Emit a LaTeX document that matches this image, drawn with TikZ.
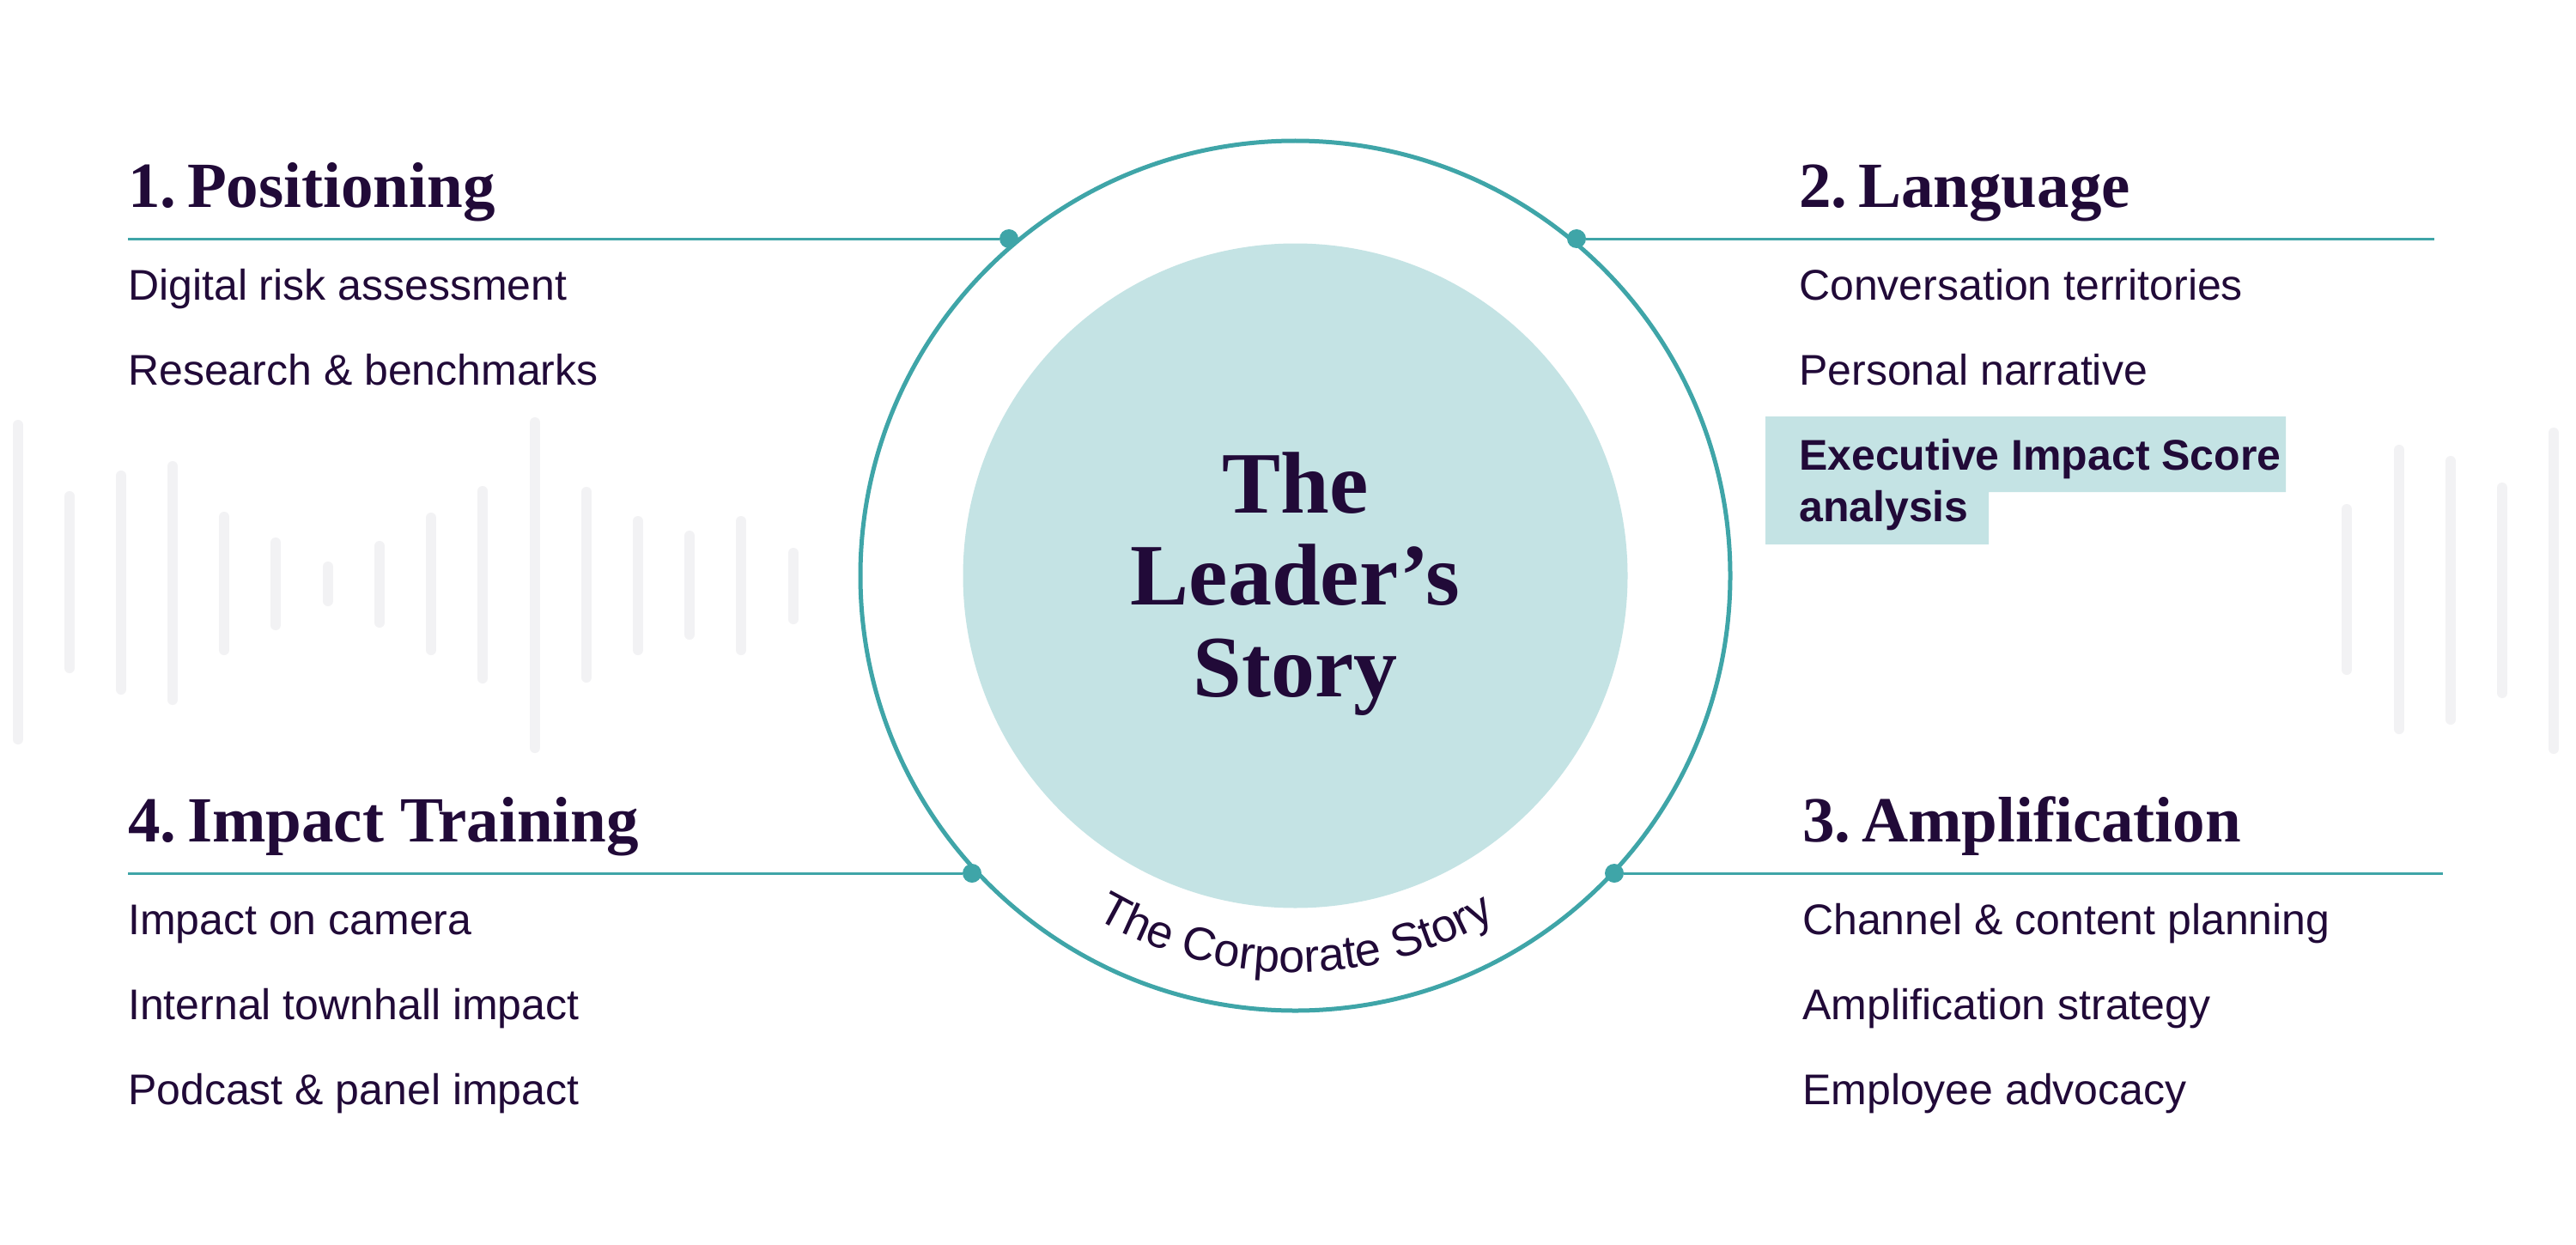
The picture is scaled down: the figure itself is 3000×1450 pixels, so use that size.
\documentclass[tikz,border=0pt]{standalone}
\usepackage{fontspec}
\setmainfont{Liberation Serif}
\setsansfont{Liberation Sans}
\usetikzlibrary{decorations.text}
\definecolor{ink}{HTML}{210A38}
\definecolor{tealc}{HTML}{3FA5A8}
\definecolor{lightteal}{HTML}{C4E3E4}
\definecolor{bargray}{HTML}{F2F2F4}
\newcommand{\nsp}{\hspace{0.17em}}
\tikzset{
  titletext/.style={anchor=base west, inner sep=0pt, text=ink, font=\fontsize{75}{75}\selectfont\bfseries},
  itemtext/.style={anchor=base west, inner sep=0pt, text=ink, font=\sffamily\fontsize{50}{60}\selectfont},
  boldtext/.style={anchor=base west, inner sep=0pt, text=ink, font=\sffamily\bfseries\fontsize{50}{60}\selectfont},
  centertext/.style={anchor=base, inner sep=0pt, text=ink, font=\fontsize{102}{102}\selectfont\bfseries},
  barline/.style={draw=bargray, line width=12pt, line cap=round},
  linkline/.style={draw=tealc, line width=3pt},
  dotnode/.style={circle, fill=tealc, inner sep=0pt, minimum size=22pt},
}
\begin{document}
\begin{tikzpicture}[x=1pt,y=-1pt]
\fill[white] (0,0) rectangle (3000,1450);
\useasboundingbox (0,0) rectangle (3000,1450);
% background bars left
\foreach \x/\a/\b in {21/495/861, 81/578/778, 141/554/803, 201/543/815, 261/602/757, 321/632/728, 382/660/700, 442/636/725, 502/603/757, 562/572/790, 623/492/871, 683/573/789, 743/607/757, 803/624/739, 863/607/757, 924/644/721}
  {\draw[barline] (\x,\a) -- (\x,\b);}
% background bars right
\foreach \x/\a/\b in {2733/593/780, 2794/524/849, 2854/537/838, 2914/568/807, 2974/504/872}
  {\draw[barline] (\x,\a) -- (\x,\b);}
% circles
\coordinate (C) at (1508.5,670.5);
\fill[lightteal] (C) circle[radius=387];
\draw[tealc, line width=5pt] (C) circle[radius=506.5];
% centre text
\node[centertext] (t1) at (1508.5,597) {The};
\node[centertext] (t2) at (1508.5,704) {Leader’s};
\node[centertext] (t3) at (1508.5,811) {Story};
% curved text
\path[decorate, decoration={text along path, text align=center,
  text={|\sffamily\fontsize{54}{54}\selectfont\color{ink}|The Corporate Story}}]
  (C) ++(155:462) arc[start angle=155, end angle=25, radius=462];
% connector lines
\coordinate (l1) at (149,278);
\coordinate (r2) at (2835,278);
\coordinate (l4) at (149,1017);
\coordinate (r3) at (2845,1017);
\node[dotnode] (d1) at (1175,278) {};
\node[dotnode] (d2) at (1836,278) {};
\node[dotnode] (d4) at (1132,1017) {};
\node[dotnode] (d3) at (1880,1017) {};
\draw[linkline] (l1) -- (d1);
\draw[linkline] (d2) -- (r2);
\draw[linkline] (l4) -- (d4);
\draw[linkline] (d3) -- (r3);
% titles
\node[titletext] (h1) at (149,241) {1.\nsp Positioning};
\node[titletext] (h2) at (2095,241) {2.\nsp Language};
\node[titletext] (h4) at (149,980) {4.\nsp Impact Training};
\node[titletext] (h3) at (2099,980) {3.\nsp Amplification};
% items
\node[itemtext] (a1) at (149,349) {Digital risk assessment};
\node[itemtext] (a2) at (149,448) {Research \& benchmarks};
\node[itemtext] (b1) at (2095,349) {Conversation territories};
\node[itemtext] (b2) at (2095,448) {Personal narrative};
\fill[lightteal] (2056,485) -- (2662,485) -- (2662,573) -- (2316,573) -- (2316,634) -- (2056,634) -- cycle;
\node[boldtext] (b3) at (2095,547) {Executive Impact Score};
\node[boldtext] (b4) at (2095,607) {analysis};
\node[itemtext] (c1) at (2099,1088) {Channel \& content planning};
\node[itemtext] (c2) at (2099,1187) {Amplification strategy};
\node[itemtext] (c3) at (2099,1286) {Employee advocacy};
\node[itemtext] (e1) at (149,1088) {Impact on camera};
\node[itemtext] (e2) at (149,1187) {Internal townhall impact};
\node[itemtext] (e3) at (149,1286) {Podcast \& panel impact};
\end{tikzpicture}
\end{document}
